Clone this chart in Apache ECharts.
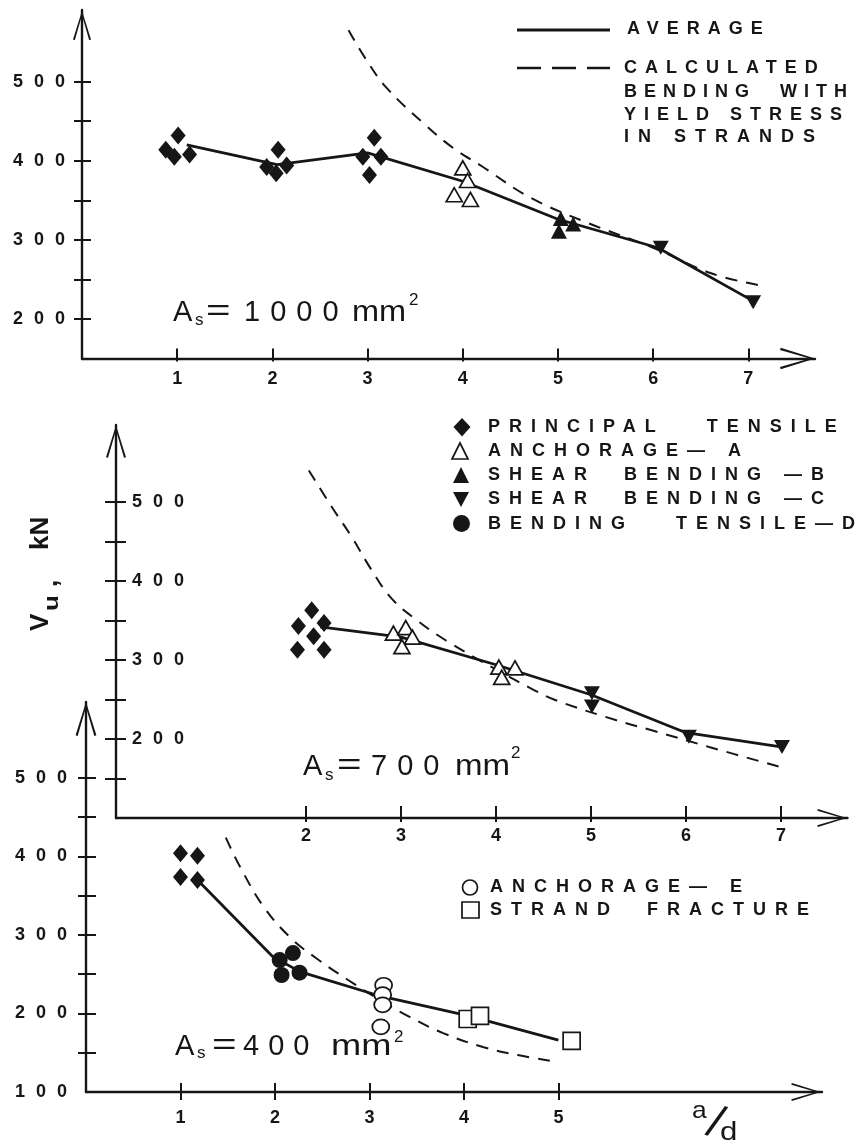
<!DOCTYPE html>
<html><head><meta charset="utf-8">
<script src="https://cdn.jsdelivr.net/npm/echarts@6/dist/echarts.min.js"></script>
<style>html,body{margin:0;padding:0;background:#fff}#c{width:856px;height:1147px}</style>
</head><body><div id="c"></div>
<script>
// Letter spacing for lettering-style text: a font family list starting with "lsN" gets N px spacing.
(function () {
  const P = CanvasRenderingContext2D.prototype, f = P.fillText;
  P.fillText = function (t, x, y, w) {
    const m = /\bls(\d+)\b/.exec(this.font || '');
    if ('letterSpacing' in this) this.letterSpacing = m ? m[1] + 'px' : '0px';
    return w === undefined ? f.call(this, t, x, y) : f.call(this, t, x, y, w);
  };
})();

// ---------- data ----------
const xTicks1 = [1, 2, 3, 4, 5, 6, 7];
const xTicks2 = [2, 3, 4, 5, 6, 7];
const xTicks3 = [1, 2, 3, 4, 5];
const yTicks1 = [200, 250, 300, 350, 400, 450, 500];
const yLabels1 = [200, 300, 400, 500];
const yTicks2 = [150, 200, 250, 300, 350, 400, 450, 500];
const yLabels2 = [200, 300, 400, 500];
const yTicks3 = [150, 200, 250, 300, 350, 400, 450, 500];
const yLabels3 = [100, 200, 300, 400, 500];

// Panel 1: As = 1000 mm2
const p1Principal = [[0.88,414],[1.01,432],[0.97,405],[1.13,408],[2.06,414],[1.94,392],[2.04,384],[2.15,394],[3.07,429],[2.95,405],[3.14,405],[3.02,382]];
const p1AnchorageA = [[4.0,391],[4.05,375],[3.91,357],[4.08,351]];
const p1ShearB = [[5.03,327],[5.01,311],[5.16,320]];
const p1ShearC = [[6.08,290],[7.05,221]];
const p1Average = [[1.1,420],[2.05,395],[3.0,410],[4.0,374],[5.0,326],[6.05,290],[7.0,226]];
const p1Calc = [[2.8,565],[3.0,525],[3.2,492],[3.6,446],[3.9,416],[4.2,393],[4.7,354],[5.3,322],[6.0,290],[6.6,258],[7.1,243]];

// Panel 2: As = 700 mm2
const p2Principal = [[2.06,363],[1.92,343],[2.19,347],[2.08,330],[1.91,313],[2.19,313]];
const p2AnchorageA = [[2.92,334],[3.05,341],[3.12,329],[3.01,317],[4.03,291],[4.06,278],[4.2,290]];
const p2ShearC = [[5.01,258],[5.01,241],[6.03,203],[7.01,190]];
const p2Average = [[2.15,342],[3.0,329],[4.0,294],[5.0,256],[6.0,208],[7.0,190]];
const p2Calc = [[2.03,540],[2.27,494],[2.48,456],[2.69,414],[2.9,378],[3.15,352],[3.47,325],[4.0,288],[4.4,262],[4.63,249],[5.26,224],[5.64,211],[6.27,189],[6.98,165]];

// Panel 3: As = 400 mm2
const p3Principal = [[1.0,404],[1.18,401],[1.0,374],[1.18,370]];
const p3BendingD = [[2.05,268],[2.19,277],[2.07,249],[2.26,252]];
const p3AnchorageE = [[3.15,236],[3.14,224],[3.14,211],[3.12,183]];
const p3Strand = [[4.04,193],[4.17,197],[5.14,165]];
const p3Average = [[1.18,370],[1.98,272],[2.27,253],[3.12,222],[4.05,197],[5.0,166]];
const p3Calc = [[1.48,424],[1.63,387],[1.88,336],[2.16,297],[2.43,271],[2.77,243],[3.1,218],[3.42,196],[3.78,175],[4.21,157],[4.57,147],[5.0,138]];

// ---------- styles ----------
const INK = '#161616';
const ARROW = 'path://M0,0 L10,32 L8,32.7 L0,5 L-8,32.7 L-10,32 Z';
const TICKFONT = 'ls11, "Liberation Sans"';
const L7 = 'bold 18px ls7, "Liberation Sans"';
const L8 = 'bold 18px ls8, "Liberation Sans"';
const L9 = 'bold 18px ls9, "Liberation Sans"';

function xPair(gi, max, ticks, up, down, margin, arrow) {
  const tl = { color: INK, width: 2 };
  return [
    { gridIndex: gi, type: 'value', min: 0, max: max, position: 'bottom',
      axisLine: { show: true, onZero: false, lineStyle: { color: INK, width: 2.4 },
        symbol: ['none', ARROW], symbolSize: arrow, symbolOffset: [0, -arrow[1] / 2] },
      axisTick: { show: true, inside: false, length: down, lineStyle: tl, customValues: ticks },
      axisLabel: { show: true, customValues: ticks, margin: margin, color: INK,
        fontFamily: '"Liberation Sans"', fontWeight: 'bold', fontSize: 18 },
      splitLine: { show: false } },
    { gridIndex: gi, type: 'value', min: 0, max: max, position: 'bottom',
      axisLine: { show: false, onZero: false },
      axisTick: { show: true, inside: true, length: up, lineStyle: tl, customValues: ticks },
      axisLabel: { show: false }, splitLine: { show: false } }
  ];
}
function yPair(gi, min, max, ticks, labels, out, inn, margin, inside, arrow) {
  const tl = { color: INK, width: 2 };
  return [
    { gridIndex: gi, type: 'value', min: min, max: max, position: 'left',
      axisLine: { show: true, onZero: false, lineStyle: { color: INK, width: 2.4 },
        symbol: ['none', ARROW], symbolSize: arrow, symbolOffset: [0, -arrow[1] / 2] },
      axisTick: { show: true, inside: false, length: out, lineStyle: tl, customValues: ticks },
      axisLabel: { show: true, inside: inside, customValues: labels, margin: margin, color: INK,
        fontFamily: TICKFONT, fontWeight: 'bold', fontSize: 18 },
      splitLine: { show: false } },
    { gridIndex: gi, type: 'value', min: min, max: max, position: 'left',
      axisLine: { show: false, onZero: false },
      axisTick: { show: true, inside: true, length: inn, lineStyle: tl, customValues: ticks },
      axisLabel: { show: false }, splitLine: { show: false } }
  ];
}

const X1 = xPair(0, 7.7, xTicks1, 10, 3, 12, [22, 35]);
const X2 = xPair(1, 7.7, xTicks2, 12, 4, 9.5, [18, 31]);
const X3 = xPair(2, 7.79, xTicks3, 9, 8, 17.5, [18, 32]);
const Y1 = yPair(0, 150, 590.5, yTicks1, yLabels1, 8, 9, 6, false, [18, 31]);
const Y2 = yPair(1, 100, 597.5, yTicks2, yLabels2, 11, 10, 16, true, [20, 33]);
const Y3 = yPair(2, 100, 596.8, yTicks3, yLabels3, 8, 10, 8, false, [22, 34]);

function calc(i, d) { return { type: 'line', xAxisIndex: i, yAxisIndex: i, data: d, smooth: 0.4, symbol: 'none', silent: true, z: 2,
  lineStyle: { color: INK, width: 2, type: [12, 9] } }; }
function avg(i, d) { return { type: 'line', xAxisIndex: i, yAxisIndex: i, data: d, symbol: 'none', silent: true, z: 3,
  lineStyle: { color: INK, width: 2.8 } }; }
function pts(i, d, sym, size, open, rot) { return { type: 'scatter', xAxisIndex: i, yAxisIndex: i, data: d, symbol: sym,
  symbolSize: size, symbolRotate: rot || 0, silent: true, z: 4,
  itemStyle: open ? { color: '#fff', borderColor: INK, borderWidth: 1.7, opacity: 1 } : { color: INK, opacity: 1 } }; }

function t(s, x, y, font, extra) {
  return Object.assign({ type: 'text', x: x, y: y, silent: true,
    style: { text: s, font: font, fill: INK, align: 'left', verticalAlign: 'middle' } }, extra || {});
}
const AN = 'normal 29px "Liberation Sans"';
const SUB = 'normal 17px "Liberation Sans"';

const graphic = [
  // top legend
  { type: 'line', silent: true, shape: { x1: 517, y1: 30, x2: 610, y2: 30 }, style: { stroke: INK, lineWidth: 3 } },
  { type: 'line', silent: true, shape: { x1: 517, y1: 68, x2: 610, y2: 68 }, style: { stroke: INK, lineWidth: 2.5, lineDash: [24, 11] } },
  t('AVERAGE', 627, 29, L8),
  t('CALCULATED', 624, 68, L8),
  t('BENDING  WITH', 624, 92, L7),
  t('YIELD STRESS', 624, 115, L8),
  t('IN STRANDS', 624, 137, L9),
  // middle legend
  { type: 'polygon', silent: true, shape: { points: [[462, 418], [470.5, 427], [462, 436.5], [453.5, 427]] }, style: { fill: INK } },
  { type: 'polygon', silent: true, shape: { points: [[460, 443], [468, 459], [452, 459]] }, style: { fill: '#fff', stroke: INK, lineWidth: 1.7 } },
  { type: 'polygon', silent: true, shape: { points: [[461, 467], [469, 483], [453, 483]] }, style: { fill: INK } },
  { type: 'polygon', silent: true, shape: { points: [[453, 492], [469, 492], [461, 507]] }, style: { fill: INK } },
  { type: 'circle', silent: true, shape: { cx: 461.5, cy: 523.5, r: 8.5 }, style: { fill: INK } },
  t('PRINCIPAL   TENSILE', 488, 427, L9),
  t('ANCHORAGE\u2014 A', 488, 451, L9),
  t('SHEAR  BENDING \u2014B', 488, 475, L9),
  t('SHEAR  BENDING \u2014C', 488, 499, L9),
  t('BENDING   TENSILE\u2014D', 488, 524, L9),
  // bottom legend
  { type: 'circle', silent: true, shape: { cx: 470, cy: 887.5, r: 7.5 }, style: { fill: '#fff', stroke: INK, lineWidth: 1.7 } },
  { type: 'rect', silent: true, shape: { x: 462, y: 902, width: 17, height: 16 }, style: { fill: '#fff', stroke: INK, lineWidth: 1.7 } },
  t('ANCHORAGE\u2014 E', 490, 887, L9),
  t('STRAND  FRACTURE', 490, 910, L9),
  // panel annotations
  t('A', 173, 312.5, AN), t('s', 195, 320, SUB), t('=', 206, 312, AN, { scaleX: 1.45 }),
  t('1000', 244, 312.5, 'normal 29px ls10, "Liberation Sans"'), t('mm', 352, 312.5, AN, { scaleX: 1.12 }), t('2', 409, 300, SUB),
  t('A', 303, 767, AN), t('s', 325, 775, SUB), t('=', 337, 766, AN, { scaleX: 1.45 }),
  t('700', 371, 767, 'normal 29px ls10, "Liberation Sans"'), t('mm', 455, 767, AN, { scaleX: 1.14 }), t('2', 511, 753, SUB),
  t('A', 175, 1047, AN), t('s', 197, 1053, SUB), t('=', 212, 1046, AN, { scaleX: 1.45 }),
  t('400', 243, 1047, 'normal 29px ls9, "Liberation Sans"'), t('mm', 331, 1047, AN, { scaleX: 1.25 }), t('2', 394, 1037, SUB),
  // y axis title
  { type: 'group', x: 50, y: 632, rotation: Math.PI / 2, silent: true, children: [
    t('V', 1, -9.3, 'bold 26px "Liberation Sans"'),
    t('u', 21, 2, 'bold 20px "Liberation Sans"', { scaleX: 1.3 }),
    t(',', 45, -0.6, 'bold 26px "Liberation Sans"'),
    t('kN', 82, -9.3, 'bold 26px "Liberation Sans"')
  ] },
  // x axis title a/d
  t('a', 692, 1111.8, 'normal 24px "Liberation Sans"', { scaleX: 1.1 }),
  { type: 'text', x: 715, y: 1124.5, rotation: -0.36, silent: true,
    style: { text: '/', font: 'normal 46px "Liberation Sans"', fill: INK, align: 'center', verticalAlign: 'middle' } },
  t('d', 720, 1133, 'normal 26px "Liberation Sans"', { scaleX: 1.2 })
];

const option = {
  animation: false,
  backgroundColor: '#fff',
  grid: [
    { left: 82, top: 10, width: 733, height: 348.5, containLabel: false, outerBoundsMode: 'none' },
    { left: 116, top: 425, width: 731.5, height: 393, containLabel: false, outerBoundsMode: 'none' },
    { left: 86, top: 702, width: 736, height: 390, containLabel: false, outerBoundsMode: 'none' }
  ],
  xAxis: [X1[0], X2[0], X3[0], X1[1], X2[1], X3[1]],
  yAxis: [Y1[0], Y2[0], Y3[0], Y1[1], Y2[1], Y3[1]],
  series: [
    calc(0, p1Calc), avg(0, p1Average),
    pts(0, p1Principal, 'diamond', [15, 18], false),
    pts(0, p1AnchorageA, 'triangle', [16, 14], true),
    pts(0, p1ShearB, 'triangle', [16, 15], false),
    pts(0, p1ShearC, 'triangle', [16, 14], false, 180),
    calc(1, p2Calc), avg(1, p2Average),
    pts(1, p2Principal, 'diamond', [15, 18], false),
    pts(1, p2AnchorageA, 'triangle', [16, 14], true),
    pts(1, p2ShearC, 'triangle', [16, 14], false, 180),
    calc(2, p3Calc), avg(2, p3Average),
    pts(2, p3Principal, 'diamond', [15, 18], false),
    pts(2, p3BendingD, 'circle', 16, false),
    pts(2, p3AnchorageE, 'circle', [17, 15], true),
    pts(2, p3Strand, 'rect', 17, true)
  ],
  graphic: graphic
};

const chart = echarts.init(document.getElementById('c'), null, { renderer: 'canvas', width: 856, height: 1147 });
chart.setOption(option);
</script>
</body></html>
